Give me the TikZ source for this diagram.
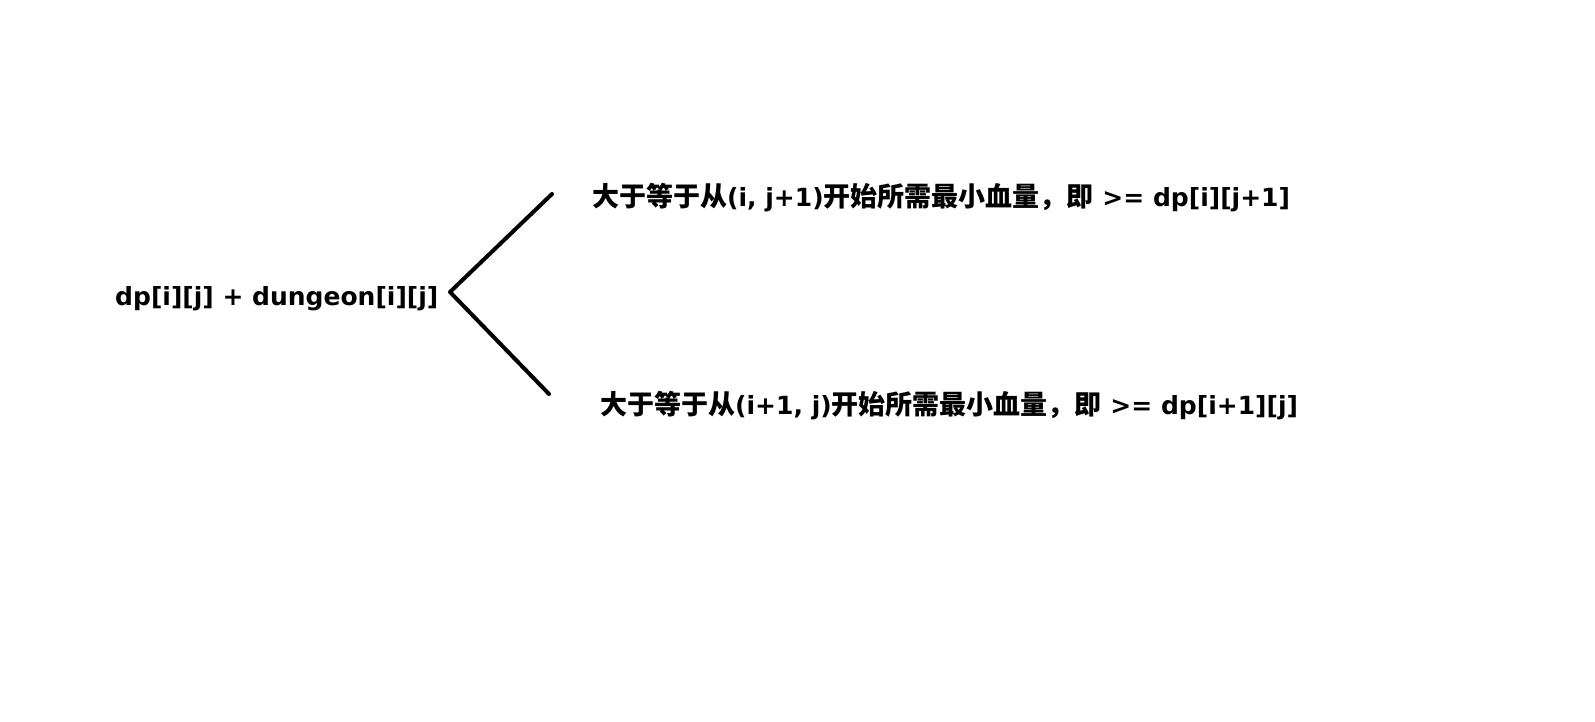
\documentclass[tikz,border=0pt]{standalone}
\usepackage{fontspec}
\setmainfont{DejaVu Sans}
\newfontfamily\cjk{Noto Sans CJK SC}
\newcommand\zh[1]{{\cjk\fontsize{27}{30}\selectfont #1}}
\begin{document}
\begin{tikzpicture}[x=1pt,y=-1pt,
  lbl/.style={inner sep=0pt,anchor=base west,font=\fontsize{25}{30}\selectfont\bfseries},
  brace/.style={line width=4pt,line cap=round,line join=round}]
\useasboundingbox[fill=white] (0,0) rectangle (1595,721);
\node[lbl] (src) at (115,305) {dp[i][j] + dungeon[i][j]};
\node[lbl] (up) at (592,206) {\zh{大于等于从}(i, j+1)\zh{开始所需最小血量，即} >= dp[i][j+1]};
\node[lbl] (dn) at (600,414) {\zh{大于等于从}(i+1, j)\zh{开始所需最小血量，即} >= dp[i+1][j]};
\coordinate (v) at (450,292);
\coordinate (t) at (552,194);
\coordinate (b) at (549,394);
\draw[brace] (t) -- (v) -- (b);
\end{tikzpicture}
\end{document}
